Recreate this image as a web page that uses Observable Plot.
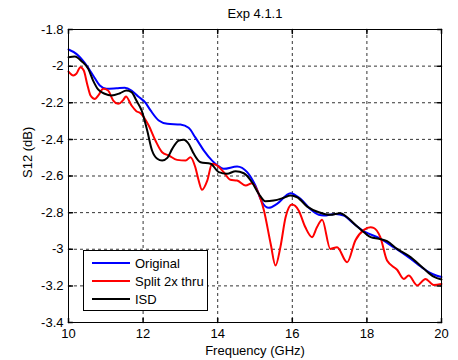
<!DOCTYPE html>
<html>
<head>
<meta charset="utf-8">
<script src="https://cdn.jsdelivr.net/npm/d3@7"></script>
<script src="https://cdn.jsdelivr.net/npm/@observablehq/plot@0.6"></script>
<style>
  body { margin: 0; background: #fff; }
  #chart { position: relative; width: 458px; height: 360px; font-family: Arial, "Liberation Sans", sans-serif; }
  #chart svg { position: absolute; left: 0; top: 0; }
  .legend { position: absolute; left: 83px; top: 250px; width: 125px; height: 61px; box-sizing: border-box;
            border: 1px solid #000; background: #fff; font-size: 13px; color: #000; }
  .legend .row { position: absolute; left: 8px; height: 18px; display: flex; align-items: center; white-space: nowrap; }
  .legend .swatch { width: 38px; height: 0; border-top: 2px solid; margin-right: 5px; }
</style>
</head>
<body>
<div id="chart"></div>
<script>
// S12 insertion loss vs frequency for three de-embedding approaches
const seriesNames = ["Original", "Split 2x thru", "ISD"];
const seriesColors = ["#0000ff", "#ff0000", "#000000"];

const freqOriginal = [10.0, 10.21, 10.44, 10.66, 10.84, 11.02, 11.29, 11.51, 11.69, 11.87, 12.05, 12.2, 12.42, 12.65, 13.0, 13.22, 13.4, 13.63, 13.85, 14.0, 14.16, 14.52, 14.79, 15.01, 15.19, 15.37, 15.59, 15.95, 16.22, 16.49, 16.71, 16.84, 17.16, 17.38, 17.65, 17.96, 18.28, 18.72, 19.17, 19.53, 19.79, 20.0];
const s12Original = [-1.909, -1.933, -1.984, -2.051, -2.106, -2.124, -2.121, -2.118, -2.133, -2.166, -2.197, -2.242, -2.297, -2.315, -2.319, -2.337, -2.389, -2.461, -2.516, -2.543, -2.561, -2.548, -2.579, -2.652, -2.743, -2.774, -2.752, -2.694, -2.725, -2.782, -2.812, -2.816, -2.807, -2.816, -2.861, -2.907, -2.934, -2.989, -3.052, -3.107, -3.138, -3.152];

const freqSplit = [10.0, 10.13, 10.21, 10.32, 10.41, 10.5, 10.59, 10.71, 10.8, 10.93, 11.06, 11.2, 11.33, 11.47, 11.54, 11.69, 11.82, 11.93, 12.15, 12.33, 12.51, 12.69, 12.91, 13.14, 13.27, 13.4, 13.49, 13.58, 13.72, 13.85, 13.99, 14.16, 14.34, 14.52, 14.75, 14.92, 15.06, 15.24, 15.42, 15.55, 15.68, 15.82, 15.99, 16.17, 16.35, 16.53, 16.66, 16.8, 17.02, 17.2, 17.47, 17.69, 17.92, 18.1, 18.18, 18.36, 18.54, 18.81, 18.99, 19.12, 19.35, 19.57, 19.79, 20.0];
const s12Split = [-2.03, -2.051, -2.042, -2.006, -2.024, -2.097, -2.16, -2.179, -2.16, -2.124, -2.133, -2.188, -2.206, -2.184, -2.166, -2.215, -2.246, -2.257, -2.324, -2.406, -2.47, -2.488, -2.512, -2.516, -2.497, -2.552, -2.625, -2.675, -2.625, -2.533, -2.543, -2.579, -2.621, -2.625, -2.652, -2.639, -2.679, -2.788, -2.97, -3.089, -2.989, -2.825, -2.756, -2.788, -2.88, -2.934, -2.88, -2.839, -2.998, -2.989, -3.071, -2.952, -2.894, -2.88, -2.883, -2.934, -3.062, -3.112, -3.162, -3.144, -3.198, -3.162, -3.195, -3.19];

const freqIsd = [10.0, 10.17, 10.35, 10.53, 10.66, 10.8, 10.97, 11.15, 11.38, 11.55, 11.69, 11.82, 11.96, 12.11, 12.24, 12.38, 12.51, 12.65, 12.78, 12.96, 13.09, 13.22, 13.36, 13.54, 13.81, 14.03, 14.25, 14.48, 14.7, 14.92, 15.1, 15.28, 15.5, 15.77, 15.95, 16.13, 16.4, 16.71, 17.02, 17.29, 17.47, 17.74, 17.92, 18.1, 18.32, 18.54, 18.81, 19.17, 19.53, 19.79, 20.0];
const s12Isd = [-1.951, -1.947, -1.973, -2.015, -2.079, -2.129, -2.151, -2.16, -2.148, -2.133, -2.142, -2.188, -2.242, -2.352, -2.461, -2.506, -2.516, -2.501, -2.452, -2.406, -2.402, -2.424, -2.479, -2.525, -2.533, -2.579, -2.588, -2.574, -2.585, -2.634, -2.697, -2.738, -2.734, -2.719, -2.707, -2.716, -2.767, -2.798, -2.812, -2.803, -2.825, -2.876, -2.907, -2.934, -2.943, -2.956, -2.998, -3.043, -3.107, -3.149, -3.165];

const xTicks = [10, 12, 14, 16, 18, 20];
const xTickLabels = ["10", "12", "14", "16", "18", "20"];
const yTicks = [-1.8, -2.0, -2.2, -2.4, -2.6, -2.8, -3.0, -3.2, -3.4];
const yTickLabels = ["-1.8", "-2", "-2.2", "-2.4", "-2.6", "-2.8", "-3", "-3.2", "-3.4"];

const titleText = "Exp 4.1.1";
const xLabel = "Frequency (GHz)";
const yLabel = "S12 (dB)";

const toRows = (fs, vs) => fs.map((f, i) => ({f, v: vs[i]}));
const series = [
  toRows(freqOriginal, s12Original),
  toRows(freqSplit, s12Split),
  toRows(freqIsd, s12Isd)
];

// short inward tick drawn from the anchor point
const tickShape = {draw(context, l) { context.moveTo(0, 0); context.lineTo(0, -l); }};
const tickLen = 4;
const innerX = xTicks.slice(1, -1);
const innerY = yTicks.slice(1, -1);

const grid = {stroke: "#000", strokeOpacity: 0.8, strokeDasharray: "3,3", strokeWidth: 1};

const chart = Plot.plot({
  width: 458,
  height: 360,
  marginLeft: 68,
  marginRight: 17,
  marginTop: 29,
  marginBottom: 38,
  style: {fontFamily: "Arial, 'Liberation Sans', sans-serif", fontSize: "13px", color: "#000", background: "#fff"},
  x: {domain: [10, 20]},
  y: {domain: [-3.4, -1.8]},
  marks: [
    Plot.gridX(innerX, {...grid}),
    Plot.gridY(innerY, {...grid}),
    ...series.map((rows, k) => Plot.line(rows, {
      x: "f", y: "v", stroke: seriesColors[k], strokeWidth: 2, curve: "monotone-x"
    })),
    Plot.vector(xTicks, {x: d => d, frameAnchor: "bottom", rotate: 0, length: tickLen, anchor: "start", shape: tickShape, stroke: "#000"}),
    Plot.vector(xTicks, {x: d => d, frameAnchor: "top", rotate: 180, length: tickLen, anchor: "start", shape: tickShape, stroke: "#000"}),
    Plot.vector(yTicks, {y: d => d, frameAnchor: "left", rotate: 90, length: tickLen, anchor: "start", shape: tickShape, stroke: "#000"}),
    Plot.vector(yTicks, {y: d => d, frameAnchor: "right", rotate: -90, length: tickLen, anchor: "start", shape: tickShape, stroke: "#000"}),
    Plot.frame({stroke: "#000", strokeWidth: 1}),
    Plot.axisX({ticks: xTicks, tickSize: 0, tickPadding: 6, label: null, fontSize: 13,
      tickFormat: d => xTickLabels[xTicks.indexOf(d)]}),
    Plot.axisY({ticks: yTicks, tickSize: 0, tickPadding: 5, label: null, fontSize: 13,
      tickFormat: d => yTickLabels[yTicks.indexOf(d)]}),
    Plot.text([titleText], {text: d => d, frameAnchor: "top", dy: -12, lineAnchor: "bottom", fontSize: 13}),
    Plot.text([xLabel], {text: d => d, frameAnchor: "bottom", dy: 32, lineAnchor: "bottom", fontSize: 13}),
    Plot.text([yLabel], {text: d => d, frameAnchor: "left", rotate: -90, dx: -37, dy: 2, lineAnchor: "bottom", fontSize: 13})
  ]
});

const host = document.getElementById("chart");
host.appendChild(chart);

// legend box inside the axes, lower left
const legend = document.createElement("div");
legend.className = "legend";
seriesNames.forEach((name, k) => {
  const row = document.createElement("div");
  row.className = "row";
  row.style.top = (3 + k * 18) + "px";
  const sw = document.createElement("span");
  sw.className = "swatch";
  sw.style.borderTopColor = seriesColors[k];
  const label = document.createElement("span");
  label.textContent = name;
  row.appendChild(sw);
  row.appendChild(label);
  legend.appendChild(row);
});
host.appendChild(legend);
</script>
</body>
</html>
